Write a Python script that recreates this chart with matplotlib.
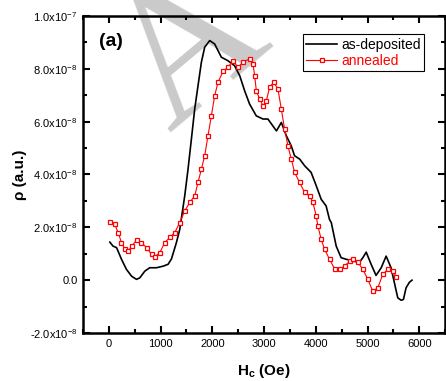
import matplotlib
matplotlib.use('Agg')
import matplotlib.pyplot as plt
from matplotlib.ticker import MultipleLocator, FuncFormatter
import numpy as np

# ---------------- data (rho in units of 1e-8) ----------------
asdep_h = [20, 80, 150, 245, 340, 440, 535, 600, 695, 790, 920, 1050, 1145, 1210,
           1306, 1371, 1467, 1531, 1596, 1660, 1724, 1789, 1853, 1950, 2046, 2175,
           2300, 2430, 2530, 2625, 2720, 2850, 2980, 3075, 3170, 3240, 3335,
           3430, 3525, 3590, 3690, 3785, 3910, 4010, 4105, 4200, 4265, 4300, 4395,
           4490, 4590, 4715, 4845, 4910, 4975, 5070, 5165, 5265, 5360, 5455, 5520,
           5585, 5650, 5695, 5745, 5810, 5860]
asdep_rho = [1.44, 1.29, 1.23, 0.79, 0.41, 0.15, 0.03, 0.09, 0.34, 0.47, 0.47, 0.53,
             0.60, 0.80, 1.42, 1.92, 3.19, 4.20, 5.34, 6.48, 7.36, 8.25, 8.82, 9.07,
             8.94, 8.44, 8.31, 8.12, 7.74, 7.17, 6.67, 6.22, 6.10, 6.10, 5.84,
             5.65, 5.97, 5.47, 5.09, 4.71, 4.58, 4.33, 4.08, 3.57, 3.06, 2.81, 2.30,
             2.18, 1.29, 0.85, 0.79, 0.72, 0.68, 0.85, 1.06, 0.60, 0.18, 0.47, 0.91,
             0.47, -0.10, -0.67, -0.76, -0.73, -0.29, -0.08, 0.00]

ann_h = [20, 115, 180, 245, 310, 375, 440, 535, 630, 730, 825, 890, 985, 1080, 1180,
         1274, 1371, 1467, 1564, 1660, 1724, 1789, 1853, 1917, 1982, 2046, 2110, 2207,
         2303, 2400, 2497, 2593, 2722, 2786, 2819, 2851, 2915, 2979, 3044, 3108, 3185,
         3268, 3334, 3398, 3461, 3527, 3591, 3687, 3784, 3880, 3945, 4009, 4041, 4106,
         4170, 4266, 4363, 4459, 4556, 4653, 4717, 4813, 4910, 5006, 5103, 5199, 5296,
         5392, 5489, 5553]
ann_rho = [2.20, 2.11, 1.80, 1.42, 1.17, 1.10, 1.29, 1.51, 1.42, 1.23, 0.98, 0.89,
           1.04, 1.42, 1.62, 1.80, 2.18, 2.62, 2.94, 3.19, 3.70, 4.20, 4.71, 5.47,
           6.22, 6.98, 7.49, 7.90, 8.06, 8.31, 8.06, 8.25, 8.38, 8.19, 7.74, 7.17,
           6.86, 6.60, 6.79, 7.30, 7.49, 7.24, 6.48, 5.72, 5.09, 4.58, 4.08, 3.70,
           3.32, 3.19, 2.94, 2.43, 2.05, 1.54, 1.17, 0.79, 0.43, 0.41, 0.53, 0.72,
           0.79, 0.68, 0.41, 0.03, -0.42, -0.29, 0.22, 0.41, 0.34, 0.13]

y_ticks = [-2e-8, 0.0, 2e-8, 4e-8, 6e-8, 8e-8, 1e-7]
x_ticks = [0, 1000, 2000, 3000, 4000, 5000, 6000]


def sci_fmt(v, pos):
    if abs(v) < 1e-12:
        return '0.0'
    exp = int(np.floor(np.log10(abs(v)) + 1e-9))
    mant = v / 10 ** exp
    return '%.1fx10$^{%d}$' % (mant, exp)


def main():
    plt.rcParams['font.family'] = ['Liberation Sans', 'DejaVu Sans']
    plt.rcParams['mathtext.default'] = 'regular'

    fig = plt.figure(figsize=(4.46, 3.81), dpi=100)
    ax = fig.add_axes([0.186, 0.126, 0.812, 0.832])

    # watermark letter
    ax.text(0.498, 0.766, 'A', transform=fig.transFigure, fontsize=137,
            family='Liberation Serif', color='#cacaca', rotation=40,
            rotation_mode='anchor', ha='center', va='baseline',
            zorder=0, clip_on=False)

    ax.plot(asdep_h, np.array(asdep_rho) * 1e-8, color='black', lw=1.2,
            label='as-deposited', zorder=3)
    ax.plot(ann_h, np.array(ann_rho) * 1e-8, color='red', lw=0.8, marker='s',
            ms=3.5, mfc='white', mec='red', mew=0.9, label='annealed', zorder=4)

    ax.set_xlim(-500, 6500)
    ax.set_ylim(-2e-8, 1e-7)
    ax.set_xticks(x_ticks)
    ax.set_yticks(y_ticks)
    ax.xaxis.set_minor_locator(MultipleLocator(500))
    ax.yaxis.set_minor_locator(MultipleLocator(1e-8))
    ax.yaxis.set_major_formatter(FuncFormatter(sci_fmt))

    ax.tick_params(which='both', direction='in', top=True, right=True, width=1.5)
    ax.tick_params(which='major', length=5, labelsize=8, pad=4)
    ax.tick_params(which='minor', length=3)
    for sp in ax.spines.values():
        sp.set_linewidth(1.8)

    ax.set_xlabel('H$_c$ (Oe)', fontsize=11, fontweight='bold', labelpad=10)
    ax.set_ylabel('ρ (a.u.)', fontsize=11, fontweight='bold', labelpad=2)

    ax.text(0.045, 0.946, '(a)', transform=ax.transAxes, fontsize=14,
            fontweight='bold', va='top', ha='left')

    leg = ax.legend(loc='upper right', bbox_to_anchor=(0.942, 0.943),
                    borderaxespad=0, fontsize=10, fancybox=False, framealpha=1,
                    edgecolor='black', handlelength=2.2, handletextpad=0.3,
                    borderpad=0.25, labelspacing=0.15)
    leg.get_frame().set_linewidth(0.8)
    for txt, c in zip(leg.get_texts(), ['black', 'red']):
        txt.set_color(c)

    fig.savefig('out.png', dpi=100)


if __name__ == '__main__':
    main()
